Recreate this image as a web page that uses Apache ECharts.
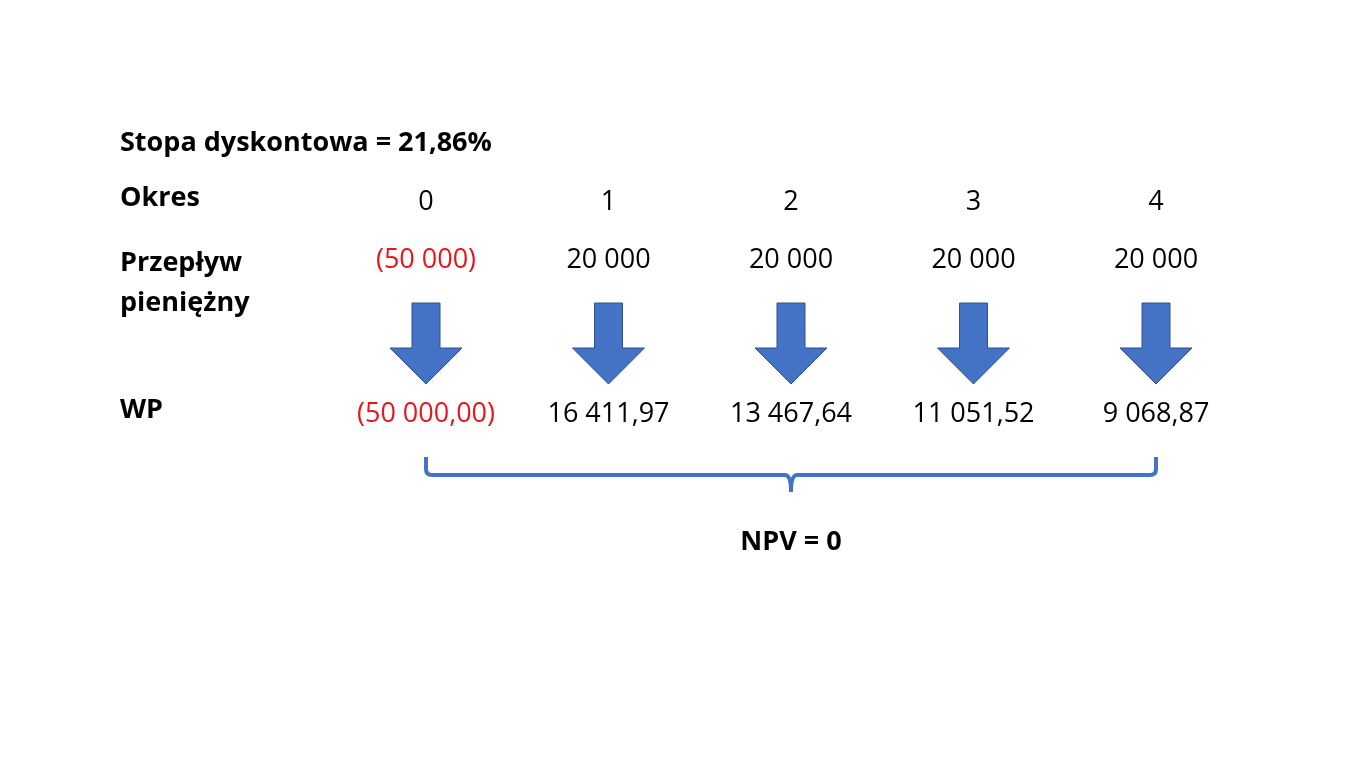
<!DOCTYPE html>
<html><head><meta charset="utf-8">
<script src="https://cdn.jsdelivr.net/npm/echarts@6/dist/echarts.min.js"></script>
<style>html,body{margin:0;background:#fff}#c{width:1365px;height:768px}</style></head>
<body><div id="c"></div>
<script>
const periods = ['0','1','2','3','4'];
const cashFlows = ['(50 000)','20 000','20 000','20 000','20 000'];
const presentValues = ['(50 000,00)','16 411,97','13 467,64','11 051,52','9 068,87'];
const negative = [true,false,false,false,false];
const rowLabels = ['Okres','Przepływ\npieniężny','WP'];
const title = 'Stopa dyskontowa = 21,86%';
const npvLabel = 'NPV = 0';

const F = '"Open Sans", "Noto Sans", sans-serif';
const chart = echarts.init(document.getElementById('c'));
const rowY = {okres:202, flow:260, arrowTop:303, arrowMid:348, arrowTip:384, wp:414, braceTop:457, braceMid:475, braceTip:492, npv:542};

function txt(x,y,t,color,bold){
  return {type:'text',x:x,y:y,style:{text:t,fill:color,font:(bold?'bold ':'')+'27px '+F,align:'center',verticalAlign:'middle'}};
}
chart.setOption({
  animation:false,
  grid:{left:334.75,right:117.75,top:0,bottom:0},
  xAxis:{type:'category',data:periods,show:false},
  yAxis:{type:'value',min:0,max:1,show:false},
  graphic:[
    {type:'text',left:120,top:130,style:{text:title,fill:'#000',font:'bold 27px '+F}},
    {type:'text',left:120,top:185,style:{text:rowLabels[0],fill:'#000',font:'bold 27px '+F}},
    {type:'text',left:120,top:243,style:{text:rowLabels[1],fill:'#000',font:'bold 27px '+F,lineHeight:40}},
    {type:'text',left:120,top:397,style:{text:rowLabels[2],fill:'#000',font:'bold 27px '+F}}
  ],
  series:[{
    type:'custom',
    data:periods.map((p,i)=>[i]),
    renderItem:function(params,api){
      const i=api.value(0);
      const x=api.coord([i,0])[0];
      const col=negative[i]?'#E8161B':'#000';
      const kids=[
        txt(x,rowY.okres,periods[i],'#000',false),
        txt(x,rowY.flow,cashFlows[i],col,false),
        txt(x,rowY.wp,presentValues[i],col,false),
        {type:'polygon',shape:{points:[[x-14,rowY.arrowTop],[x+14,rowY.arrowTop],[x+14,rowY.arrowMid],[x+36,rowY.arrowMid],[x,rowY.arrowTip],[x-36,rowY.arrowMid],[x-14,rowY.arrowMid]]},
         style:{fill:'#4472C4',stroke:'#2F528F',lineWidth:1}}
      ];
      if(i===0){
        const x0=x, x4=api.coord([periods.length-1,0])[0], xm=(x0+x4)/2;
        const t=rowY.braceTop,m=rowY.braceMid,b=rowY.braceTip,r=6;
        kids.push({type:'path',shape:{pathData:
          `M${x0} ${t} L${x0} ${m-r} Q${x0} ${m} ${x0+r} ${m} L${xm-r} ${m} Q${xm} ${m} ${xm} ${b} Q${xm} ${m} ${xm+r} ${m} L${x4-r} ${m} Q${x4} ${m} ${x4} ${m-r} L${x4} ${t}`},
          style:{fill:null,stroke:'#4472C4',lineWidth:4}});
        kids.push(txt(xm,rowY.npv,npvLabel,'#000',true));
      }
      return {type:'group',children:kids};
    }
  }]
});
</script></body></html>
